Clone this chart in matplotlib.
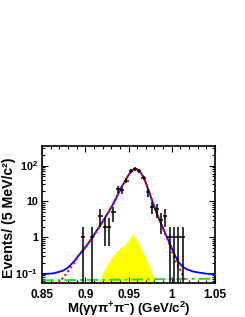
import numpy as np
import matplotlib
matplotlib.use('Agg')
import matplotlib.pyplot as plt
from matplotlib.ticker import FixedLocator, FixedFormatter, MultipleLocator, LogLocator, NullFormatter

plt.rcParams['font.family'] = ['Liberation Sans', 'DejaVu Sans']
plt.rcParams['font.weight'] = 'bold'
plt.rcParams['mathtext.fontset'] = 'custom'
plt.rcParams['mathtext.rm'] = 'Liberation Sans:bold'
plt.rcParams['mathtext.it'] = 'Liberation Sans:italic:bold'
plt.rcParams['mathtext.bf'] = 'Liberation Sans:bold'
plt.rcParams['mathtext.default'] = 'rm'

# =============================================================================
# Data
# =============================================================================
# data points, 5 MeV bins (only non-empty bins drawn)
mass = [0.8975, 0.9075, 0.9175, 0.9225, 0.9275, 0.9325, 0.9375, 0.9425,
        0.9475, 0.9525, 0.9575, 0.9625, 0.9675, 0.9725, 0.9775, 0.9825,
        0.9875, 0.9925, 0.9975, 1.0025, 1.0075, 1.0125]
counts = [1, 1, 4, 2, 2, 5, 22, 21,
          38, 72, 80, 70, 46, 18, 7, 6,
          3, 4, 1, 1, 1, 1]

# total fit (blue)
tot_x = [0.850, 0.856, 0.863, 0.8695, 0.8747, 0.880, 0.884, 0.888, 0.892,
         0.897, 0.9025, 0.9075, 0.9125, 0.9175, 0.922, 0.927, 0.932, 0.9365,
         0.941, 0.946, 0.9495, 0.9525, 0.955, 0.9575, 0.960, 0.962, 0.9645,
         0.967, 0.970, 0.973, 0.9758, 0.9785, 0.9815, 0.9844, 0.987, 0.990,
         0.993, 0.996, 0.999, 1.0017, 1.0045, 1.0076, 1.0125, 1.0173, 1.025,
         1.0326, 1.040, 1.050]
tot_y = [0.094, 0.097, 0.10, 0.11, 0.12, 0.145, 0.18, 0.23, 0.31,
         0.42, 0.63, 0.94, 1.45, 2.2, 3.3, 5.1, 8.3, 13.5,
         23, 37, 52, 66, 76, 80, 78, 72, 61,
         49, 33, 21, 13.5, 8.8, 5.6, 3.7, 2.6, 1.8,
         1.2, 0.84, 0.58, 0.40, 0.29, 0.21, 0.155, 0.13, 0.112,
         0.104, 0.098, 0.094]

# signal component (red dotted)
sig_x = [0.869, 0.8735, 0.8785, 0.883, 0.888, 0.894, 0.9, 0.9075, 0.9125,
         0.9175, 0.922, 0.927, 0.932, 0.9365, 0.941, 0.946, 0.9495, 0.9525,
         0.955, 0.9575, 0.960, 0.962, 0.9645, 0.967, 0.970, 0.973, 0.9758,
         0.9785, 0.9815, 0.9844, 0.987, 0.990, 0.993, 0.996, 0.999, 1.0017,
         1.0045, 1.0076, 1.0115, 1.0153]
sig_y = [0.054, 0.072, 0.10, 0.145, 0.21, 0.36, 0.55, 0.9, 1.4,
         2.15, 3.3, 5.1, 8.3, 13.5, 23, 37, 52, 66,
         76, 80, 78, 72, 61, 49, 33, 21, 13.5,
         8.8, 5.6, 3.7, 2.55, 1.75, 1.15, 0.78, 0.5, 0.33,
         0.22, 0.16, 0.105, 0.054]

# peaking background (yellow)
pk_x = [0.915, 0.920, 0.925, 0.9324, 0.940, 0.9457, 0.9514, 0.9548, 0.9595,
        0.967, 0.9746, 0.980, 0.986]
pk_y = [0.054, 0.10, 0.17, 0.32, 0.50, 0.62, 0.94, 1.29, 0.84,
        0.36, 0.14, 0.065, 0.054]

# flat background (green dash-dot)
bkg_x = [0.85, 1.05]
bkg_y = [0.064, 0.071]

# =============================================================================
# Plot
# =============================================================================
fig = plt.figure(figsize=(2.45, 3.17), dpi=100)
ax = fig.add_axes([0.1714, 0.1073, 0.7062, 0.4307])

ax.fill_between(pk_x, pk_y, 1e-3, color='#ffff00', linewidth=0, zorder=1)
ax.plot(bkg_x, bkg_y, color='#22dd22', linestyle=(0, (6, 2, 1.5, 2)), linewidth=1.4, zorder=2)
ax.plot(tot_x, tot_y, color='#0000ff', linewidth=1.3, zorder=3)
ax.plot(sig_x, sig_y, color='#ff0000', linestyle=(0, (1, 1.3)), linewidth=1.5, zorder=4)

n = np.array(counts, dtype=float)
err_lo = np.minimum(np.sqrt(n), n * 0.999)
err_hi = np.sqrt(n)
ax.errorbar(mass, n, yerr=[err_lo, err_hi], xerr=0.0025, fmt='none',
            ecolor='black', elinewidth=1.1, capsize=0, zorder=5)

# Axes
ax.set_xlim(0.85, 1.05)
ax.set_yscale('log')
ax.set_ylim(0.054, 340)

ax.xaxis.set_major_locator(FixedLocator([0.85, 0.9, 0.95, 1.0, 1.05]))
ax.xaxis.set_major_formatter(FixedFormatter(['0.85', '0.9', '0.95', '1', '1.05']))
ax.xaxis.set_minor_locator(MultipleLocator(0.01))
ax.yaxis.set_major_locator(FixedLocator([0.1, 1, 10, 100]))
ax.yaxis.set_major_formatter(FixedFormatter([r'$10^{-1}$', '1', '10', r'$10^{2}$']))
ax.yaxis.set_minor_locator(LogLocator(base=10, subs=np.arange(2, 10)))
ax.yaxis.set_minor_formatter(NullFormatter())

ax.tick_params(which='both', direction='in', top=True, right=True, width=0.8)
ax.tick_params(which='major', length=4.5, labelsize=8.5, pad=4)
ax.tick_params(axis='y', which='major', labelsize=7.8, pad=3)
ax.tick_params(which='minor', length=2.2)
for s in ax.spines.values():
    s.set_linewidth(1.2)

ax.set_xlabel(r'M($\gamma\gamma\pi^{+}\pi^{-}$) (GeV/c$^{2}$)', fontsize=9.5, fontweight='bold')
ax.xaxis.set_label_coords(0.5, -0.125)
ax.set_ylabel('Events/ (5 MeV/c²)', fontsize=10.2, fontweight='bold')
ax.yaxis.set_label_coords(-0.152, 0.478)

fig.savefig('out.png', dpi=100)
